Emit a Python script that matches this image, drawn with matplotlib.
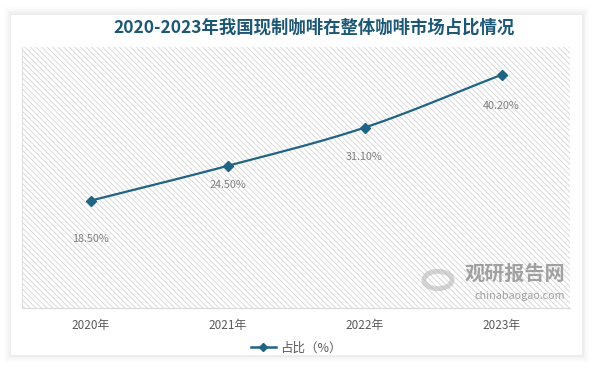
import numpy as np
import matplotlib
matplotlib.use("Agg")
import matplotlib.pyplot as plt
from matplotlib.patches import Rectangle, Circle
from matplotlib.lines import Line2D

plt.rcParams['font.family'] = ['Noto Sans CJK SC', 'DejaVu Sans']
plt.rcParams['hatch.linewidth'] = 0.6

categories = ["2020年", "2021年", "2022年", "2023年"]
values = [18.5, 24.5, 31.1, 40.2]
labels = ["18.50%", "24.50%", "31.10%", "40.20%"]
label_offsets = [-38, -19, -29, -31]  # pixels below marker
title = "2020-2023年我国现制咖啡在整体咖啡市场占比情况"
series_name = "占比（%）"

W, H = 594, 368
fig = plt.figure(figsize=(W / 100, H / 100), dpi=100)
fig.patch.set_facecolor('white')

# soft card shadow
for d, a in [(7, 0.012), (5, 0.015), (3, 0.02), (1.5, 0.025)]:
    fig.patches.append(Rectangle(((11 - d) / W, (H - 356 - d + 1) / H), (571 + 2 * d) / W, (341 + 2 * d) / H,
                                 transform=fig.transFigure, facecolor='black', alpha=a, edgecolor='none', zorder=0))
fig.patches.append(Rectangle((11 / W, (H - 355) / H), 571 / W, 340 / H, transform=fig.transFigure,
                             facecolor='white', edgecolor='none', zorder=1))

ax = fig.add_axes([22 / W, (H - 308) / H, 548 / W, 261 / H], zorder=2)
ax.set_facecolor('white')
ax.add_patch(Rectangle((0, 0), 1, 1, transform=ax.transAxes, facecolor='white', edgecolor='#d4d4d4', lw=0,
                       hatch='\\\\\\\\\\\\', zorder=0))

x = np.arange(len(values))
y = np.array(values, dtype=float)

def catmull(xp, yp, n=40):
    px = np.concatenate([[2 * xp[0] - xp[1]], xp, [2 * xp[-1] - xp[-2]]])
    py = np.concatenate([[2 * yp[0] - yp[1]], yp, [2 * yp[-1] - yp[-2]]])
    xs, ys = [], []
    for i in range(1, len(px) - 2):
        t = np.linspace(0, 1, n)
        for arr, out in ((px, xs), (py, ys)):
            p0, p1, p2, p3 = arr[i - 1], arr[i], arr[i + 1], arr[i + 2]
            out.append(0.5 * ((2 * p1) + (-p0 + p2) * t + (2 * p0 - 5 * p1 + 4 * p2 - p3) * t ** 2
                              + (-p0 + 3 * p1 - 3 * p2 + p3) * t ** 3))
    return np.concatenate(xs), np.concatenate(ys)

sx, sy = catmull(x, y)
color = '#1f6385'
ax.plot(sx, sy, color=color, lw=1.6, zorder=3, solid_capstyle='round')
ax.plot(x, y, linestyle='none', marker='D', ms=5, color=color, zorder=4)

for xi, yi, lab, off in zip(x, y, labels, label_offsets):
    ax.annotate(lab, (xi, yi), xytext=(0, off * 0.72), textcoords='offset points', ha='center', va='center',
                fontsize=7.8, color='#7f7f7f', zorder=5)

ax.set_xlim(-0.5, len(values) - 0.5)
ax.set_ylim(0, 45)
ax.set_yticks([])
ax.set_xticks(x)
ax.set_xticklabels(categories, fontsize=8.5, color='#595959')
ax.tick_params(axis='x', length=0, pad=8)
for s in ['top', 'right']:
    ax.spines[s].set_visible(False)
ax.spines['bottom'].set_color('#d9d9d9')
ax.spines['left'].set_color('#d9d9d9')
ax.spines['left'].set_linewidth(0.6)

# watermark
fig.text(565 / W, (H - 273) / H, "观研报告网", fontsize=14.5, fontweight='bold', color='#8c8c8c', alpha=0.8,
         ha='right', va='center', zorder=6)
fig.text(565 / W, (H - 296) / H, "chinabaogao.com", fontsize=7.8, color='#8c8c8c', alpha=0.8,
         ha='right', va='center', zorder=6)
fig.patches.append(Circle((438 / W, (H - 280) / H), 14 / W, transform=fig.transFigure,
                          facecolor='none', edgecolor='#b8b8b8', lw=3.5, alpha=0.6, zorder=6))

fig.text(314 / W, (H - 28) / H, title, fontsize=12.5, fontweight='bold', color='#1c5875', ha='center', va='center')

handle = Line2D([], [], color=color, lw=1.8, marker='D', ms=4)
leg = ax.legend([handle], [series_name], loc='upper center', bbox_to_anchor=(0.5, -0.085), frameon=False,
                fontsize=9, handlelength=2.0, handletextpad=0.3, labelcolor='#595959')

fig.savefig('out.png', dpi=100, facecolor='white')
